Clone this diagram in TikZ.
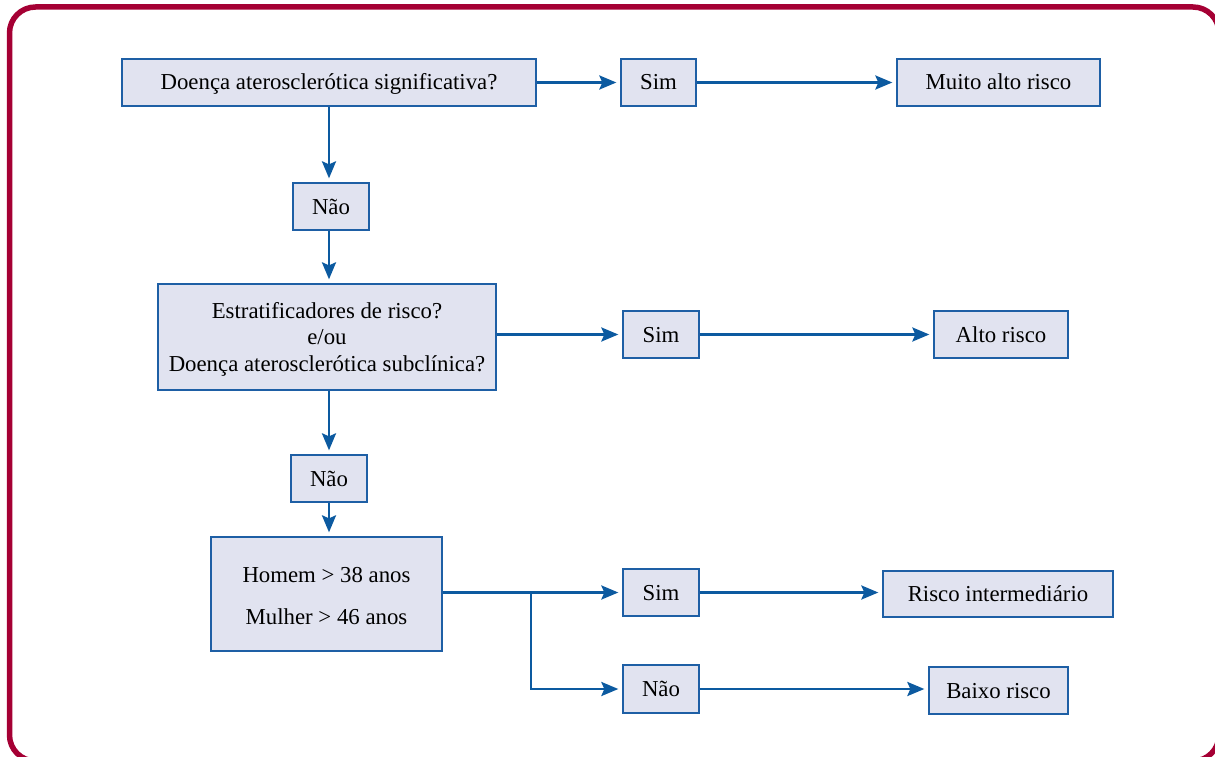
\documentclass[tikz,border=0pt]{standalone}
\usepackage{fontspec}
\setmainfont{Liberation Serif}
\usetikzlibrary{arrows.meta}
\definecolor{framered}{RGB}{165,0,52}
\definecolor{boxfill}{RGB}{225,227,240}
\definecolor{boxline}{RGB}{30,95,165}
\definecolor{arrowblue}{RGB}{12,90,160}
\tikzset{
  fbox/.style={draw=boxline, fill=boxfill, line width=1.3pt, inner sep=0pt, align=center,
    font=\fontsize{22.8}{26.5}\selectfont},
  onel/.style={fbox, text height=15pt, text depth=0pt, minimum height=47pt},
  conn/.style={draw=arrowblue, line width=2.7pt, -{Stealth[length=17pt,width=14pt,inset=3pt]}, shorten >=4pt}
}
\begin{document}
\begin{tikzpicture}[x=1pt,y=-1pt]
\useasboundingbox (0,0) rectangle (1215,757);
\begin{scope}
\clip (0,0) rectangle (1215,757);
\draw[framered, line width=5.5pt, rounded corners=26pt] (9.5,7) rectangle (1219,761);
\end{scope}
\node[onel, minimum width=414pt] (q1) at (329,82.5) {Doença aterosclerótica significativa?};
\node[onel, minimum width=75pt] (s1) at (658.5,82.5) {Sim};
\node[onel, minimum width=203pt] (r1) at (998.5,82.5) {Muito alto risco};
\node[onel, minimum width=76pt] (n1) at (331,206.5) {Não};
\node[fbox, minimum width=338pt, minimum height=106pt] (q2) at (327,337) {\rule{0pt}{20pt}Estratificadores de risco?\\e/ou\\Doença aterosclerótica subclínica?};
\node[onel, minimum width=76pt] (s2) at (661,334.5) {Sim};
\node[onel, minimum width=134pt] (r2) at (1001,334.5) {Alto risco};
\node[onel, minimum width=76pt] (n2) at (329,478.5) {Não};
\node[fbox, minimum width=231pt, minimum height=114pt, font=\fontsize{22.8}{42}\selectfont] (q3) at (326.5,594) {\rule{0pt}{20pt}Homem > 38 anos\\Mulher > 46 anos};
\node[onel, minimum width=76pt] (s3) at (661,592.5) {Sim};
\node[onel, minimum width=230pt, minimum height=46pt] (r3) at (998,594) {Risco intermediário};
\node[onel, minimum width=76pt, minimum height=48pt] (n3) at (661,689) {Não};
\node[onel, minimum width=139pt] (r4) at (998.5,690.5) {Baixo risco};
\coordinate (br) at (531,592.5);
\draw[conn] (q1.east) -- (s1.west);
\draw[conn] (s1.east) -- (r1.west);
\draw[conn] (q1.south) -- (q1.south |- n1.north);
\draw[conn] (n1.south -| q1.south) -- (q1.south |- q2.north);
\draw[conn] (q2.east |- s2.west) -- (s2.west);
\draw[conn] (s2.east) -- (r2.west |- s2.east);
\draw[conn] (q2.south -| n2.north) -- (n2.north);
\draw[conn] (n2.south) -- (n2.south |- q3.north);
\draw[conn] (q3.east |- s3.west) -- (s3.west);
\draw[conn] (s3.east) -- (r3.west |- s3.east);
\draw[conn] (br) |- (n3.west);
\draw[conn] (n3.east) -- (r4.west |- n3.east);
\end{tikzpicture}
\end{document}
